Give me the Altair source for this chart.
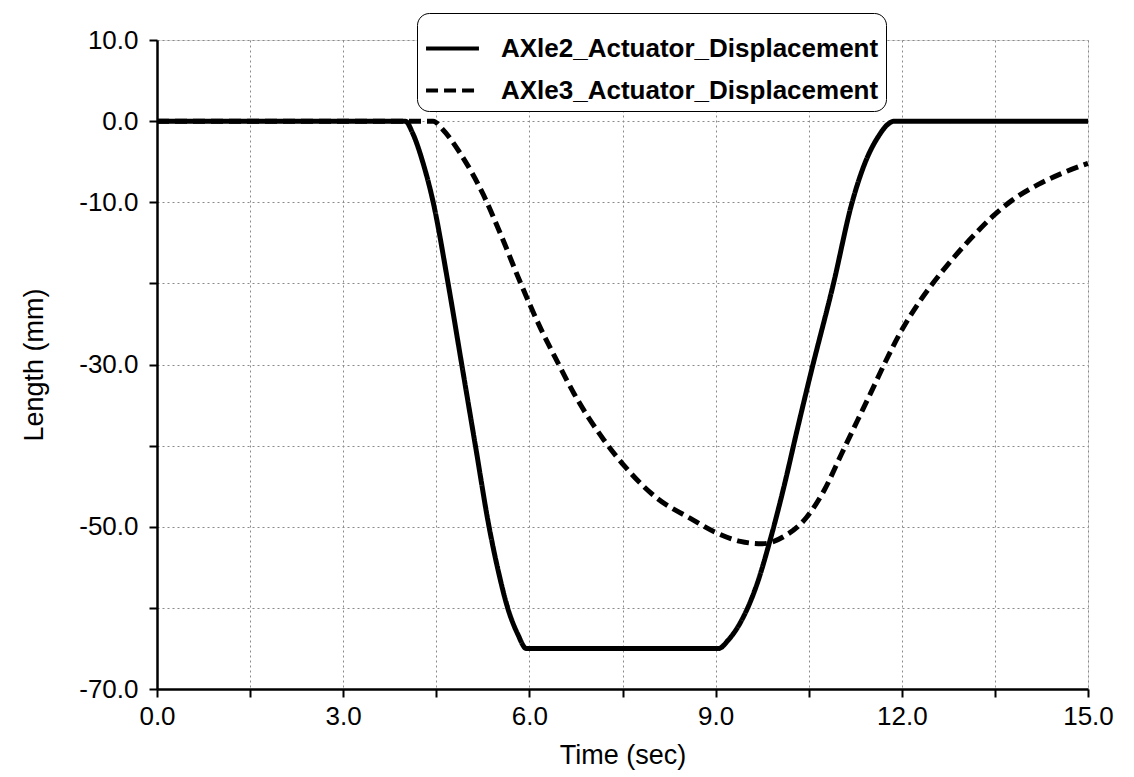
import altair as alt
import pandas as pd

# ---- data ----
axle2_t = [0.0, 4.0, 4.12, 4.28, 4.45, 4.69, 4.91, 5.13, 5.35, 5.5, 5.65, 5.81, 5.95,
           9.05, 9.2, 9.4, 9.67, 9.88, 10.1, 10.31, 10.53, 10.9, 11.2, 11.41, 11.63, 11.76, 11.88, 15.0]
axle2_v = [0.0, 0.0, -1.5, -5.0, -10.0, -20.0, -30.0, -40.0, -50.0, -55.5, -60.0, -63.2, -65.0,
           -65.0, -64.0, -61.8, -57.0, -51.6, -45.1, -38.2, -31.2, -20.0, -10.0, -5.1, -1.8, -0.5, 0.0, 0.0]

axle3_t = [0.0, 4.45, 4.6, 4.88, 5.26, 5.54, 5.86, 6.19, 6.46, 6.72, 7.2, 7.53, 8.06, 8.6, 9.0,
           9.4, 9.75, 10.1, 10.47, 10.75, 11.03, 11.28, 11.5, 11.74, 11.96, 12.29, 12.51, 12.84,
           13.22, 13.5, 13.77, 14.2, 14.59, 15.0]
axle3_v = [0.0, 0.0, -1.0, -3.9, -9.1, -14.0, -20.0, -25.7, -29.8, -33.6, -39.3, -42.5, -46.5, -49.0, -50.7,
           -51.8, -52.1, -51.2, -48.8, -45.5, -41.0, -37.0, -33.5, -29.6, -26.3, -22.2, -19.9, -16.8,
           -13.6, -11.5, -9.8, -7.8, -6.4, -5.2]

series_names = ["AXle2_Actuator_Displacement", "AXle3_Actuator_Displacement"]

x_ticks = [0, 1.5, 3, 4.5, 6, 7.5, 9, 10.5, 12, 13.5, 15]
y_ticks = [10, 0, -10, -20, -30, -40, -50, -60, -70]

df = pd.concat([
    pd.DataFrame({"t": axle2_t, "v": axle2_v, "series": series_names[0]}),
    pd.DataFrame({"t": axle3_t, "v": axle3_v, "series": series_names[1]}),
])

FONT = "Liberation Sans"
num_fmt = "(datum.value < 0 ? '-' : '') + format(abs(datum.value), '.1f')"

chart = alt.Chart(df).mark_line(
    interpolate="monotone", strokeWidth=5, color="black", strokeCap="butt"
).encode(
    x=alt.X("t:Q", title="Time (sec)",
            scale=alt.Scale(domain=[0, 15], nice=False, zero=False),
            axis=alt.Axis(values=x_ticks,
                          labelExpr="datum.value % 3 == 0 ? " + num_fmt + " : ''",
                          grid=True, gridColor="#8a8a8a", gridDash=[2, 3], gridWidth=1,
                          domainColor="black", domainWidth=2.5,
                          tickColor="black", tickWidth=2, tickSize=8,
                          labelFont=FONT, labelFontSize=26, labelColor="black", labelPadding=6,
                          labelFlush=False,
                          titleFont=FONT, titleFontSize=27, titleFontWeight="normal",
                          titleColor="black", titlePadding=13)),
    y=alt.Y("v:Q", title="Length (mm)",
            scale=alt.Scale(domain=[-70, 10], nice=False, zero=False),
            axis=alt.Axis(values=y_ticks,
                          labelExpr="(datum.value == -20 || datum.value == -40 || datum.value == -60) ? '' : " + num_fmt,
                          grid=True, gridColor="#8a8a8a", gridDash=[2, 3], gridWidth=1,
                          domainColor="black", domainWidth=2.5,
                          tickColor="black", tickWidth=2, tickSize=8,
                          labelFont=FONT, labelFontSize=26, labelColor="black", labelPadding=11,
                          labelFlush=False,
                          titleFont=FONT, titleFontSize=27, titleFontWeight="normal",
                          titleColor="black", titlePadding=30)),
    strokeDash=alt.StrokeDash("series:N",
                              scale=alt.Scale(domain=series_names, range=[[1, 0], [12, 6]]),
                              legend=alt.Legend(title=None, orient="none", legendX=260, legendY=-27,
                                                fillColor="white", strokeColor="black",
                                                cornerRadius=12, padding=7,
                                                symbolType="stroke", symbolSize=2800,
                                                symbolStrokeWidth=4, symbolStrokeColor="black",
                                                labelFont=FONT, labelFontSize=26,
                                                labelFontWeight="bold", labelColor="black",
                                                labelLimit=600, labelOffset=20, rowPadding=0)),
).properties(
    width=931, height=649,
    autosize=alt.AutoSizeParams(type="none"),
    padding={"left": 157, "top": 40, "right": 46, "bottom": 88},
).configure_view(
    stroke="black", strokeWidth=2
).configure_legend(
    strokeWidth=3
).configure(background="white")

chart.save("out.html", embed_options={"renderer": "svg", "actions": False})
